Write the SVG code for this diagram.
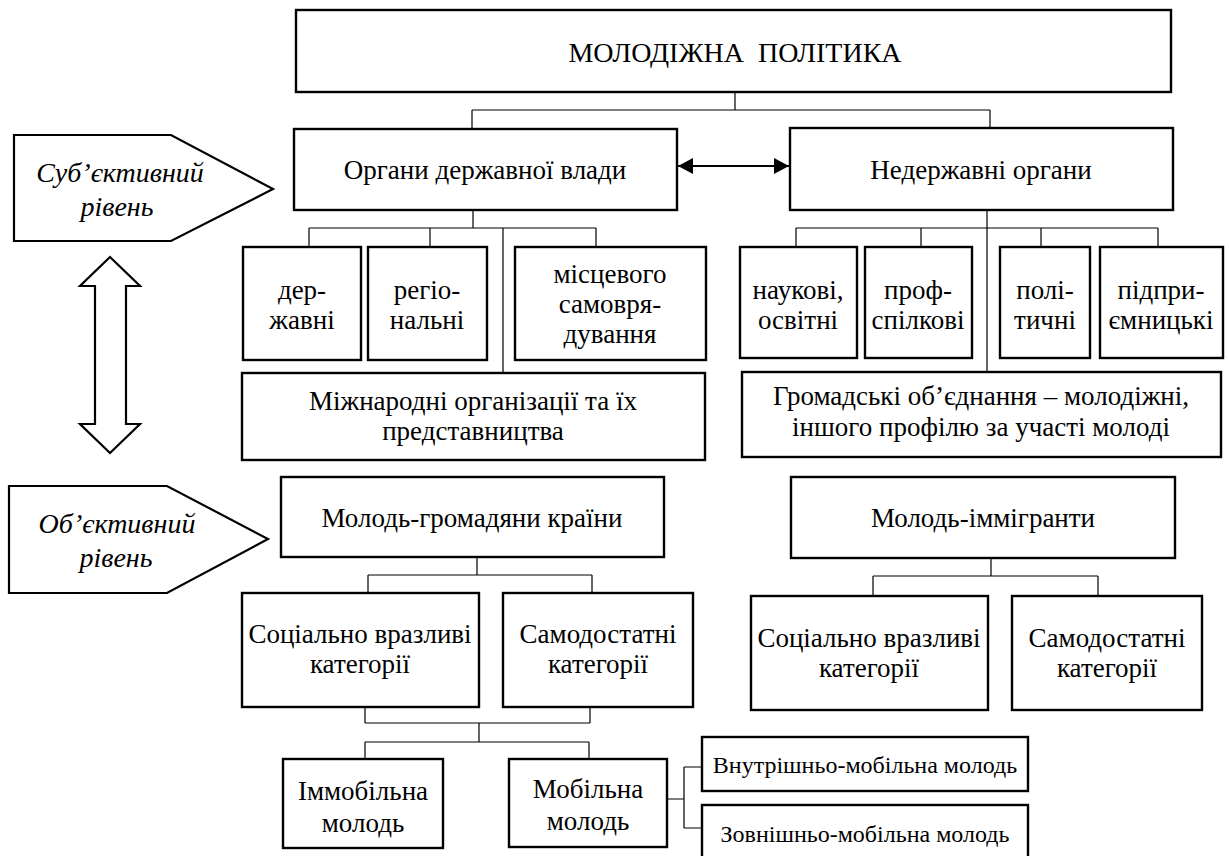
<svg xmlns="http://www.w3.org/2000/svg" width="1229" height="856" viewBox="0 0 1229 856">
<style>
.box{fill:#fff;stroke:#000;stroke-width:2.4}
.shape{fill:#fff;stroke:#000;stroke-width:2.2;stroke-linejoin:miter}
.ln{fill:none;stroke:#000;stroke-width:1.2}
.txt text{font-size:27px;text-anchor:middle;fill:#000}
.txt .tt{font-size:28px}
.txt .ti{font-style:italic;font-size:28px}
.txt .ts{font-size:24px}
</style>
<defs>
<marker id="ah" viewBox="0 0 15 16" refX="15" refY="8" markerWidth="15" markerHeight="16" markerUnits="userSpaceOnUse" orient="auto-start-reverse">
<path d="M0,0 L15,8 L0,16 z" fill="#000"/>
</marker>
</defs>
<rect width="1229" height="856" fill="#fff"/>
<g id="connectors">
<path class="ln" d="M735,92 V110 M472,110 H990 M472,110 V129 M990,110 V128"/>
<path class="ln" d="M473,210 V228 M309,228 H596 M309,228 V247 M430,228 V247 M596,228 V247 M503,228 V373"/>
<path class="ln" d="M987,210 V372 M796,228 H1158 M796,228 V247 M921,228 V247 M1041,228 V247 M1158,228 V247"/>
<line x1="678" y1="166" x2="789" y2="166" stroke="#000" stroke-width="2.2" marker-start="url(#ah)" marker-end="url(#ah)"/>
<path class="ln" d="M477,557 V575 M368,575 H592 M368,575 V593 M592,575 V593"/>
<path class="ln" d="M991,558 V576 M873,576 H1098 M873,576 V596 M1098,576 V596"/>
<path class="ln" d="M365,707 V723 M590,707 V723 M365,723 H590 M479,723 V742 M365,742 H589 M365,742 V759 M589,742 V759"/>
<path class="ln" d="M667,799 H684 M684,767 V828 M684,767 H702 M684,828 H702" stroke="#333" stroke-width="1.6"/>
</g>
<g class="txt" font-family="Liberation Serif, Times New Roman, Times, DejaVu Serif, serif">
<g id="n-top"><rect class="box" x="296" y="10" width="875" height="82"/><text class="tt" x="735" y="62" xml:space="preserve">МОЛОДІЖНА  ПОЛІТИКА</text></g>
<g id="n-subj"><polygon class="shape" points="14,135 171,135 273,189 171,241 14,241"/><text class="ti" x="120" y="182">Суб’єктивний</text><text class="ti" x="117" y="216">рівень</text></g>
<g id="n-levels-arrow"><polygon class="shape" points="110,257 140,286 126,286 126,424 140,424 110,453 80,424 95,424 95,286 80,286"/></g>
<g id="n-obj"><polygon class="shape" points="9,486 167,486 268,539 167,593 9,593"/><text class="ti" x="117" y="533">Об’єктивний</text><text class="ti" x="116" y="567">рівень</text></g>
<g id="n-organy"><rect class="box" x="294" y="129" width="383" height="81"/><text x="485" y="179">Органи державної влади</text></g>
<g id="n-nederzh"><rect class="box" x="790" y="128" width="383" height="82"/><text x="981" y="179">Недержавні органи</text></g>
<g id="n-derzh"><rect class="box" x="243" y="247" width="118" height="113"/><text x="302" y="299">дер-</text><text x="302" y="329">жавні</text></g>
<g id="n-region"><rect class="box" x="368" y="247" width="119" height="113"/><text x="427" y="299">регіо-</text><text x="427" y="329">нальні</text></g>
<g id="n-misc"><rect class="box" x="515" y="247" width="191" height="113"/><text x="610" y="283">місцевого</text><text x="610" y="313">самовря-</text><text x="610" y="343">дування</text></g>
<g id="n-nauk"><rect class="box" x="740" y="247" width="117" height="111"/><text x="798" y="299">наукові,</text><text x="798" y="329">освітні</text></g>
<g id="n-prof"><rect class="box" x="865" y="247" width="107" height="111"/><text x="918" y="299">проф-</text><text x="918" y="329">спілкові</text></g>
<g id="n-polit"><rect class="box" x="1000" y="247" width="90" height="111"/><text x="1045" y="299">полі-</text><text x="1045" y="329">тичні</text></g>
<g id="n-pidpr"><rect class="box" x="1100" y="247" width="123" height="111"/><text x="1161" y="299">підпри-</text><text x="1161" y="329">ємницькі</text></g>
<g id="n-mizhn"><rect class="box" x="242" y="373" width="463" height="87"/><text x="473" y="410">Міжнародні організації та їх</text><text x="473" y="440">представництва</text></g>
<g id="n-hromad"><rect class="box" x="742" y="372" width="479" height="85"/><text x="981" y="405">Громадські об’єднання – молодіжні,</text><text x="981" y="436">іншого профілю за участі молоді</text></g>
<g id="n-molod-hr"><rect class="box" x="281" y="477" width="383" height="80"/><text x="472" y="527">Молодь-громадяни країни</text></g>
<g id="n-molod-imm"><rect class="box" x="791" y="477" width="384" height="81"/><text x="983" y="527">Молодь-іммігранти</text></g>
<g id="n-soc1"><rect class="box" x="242" y="593" width="237" height="114"/><text x="360" y="643">Соціально вразливі</text><text x="360" y="673">категорії</text></g>
<g id="n-samo1"><rect class="box" x="503" y="593" width="190" height="114"/><text x="598" y="643">Самодостатні</text><text x="598" y="673">категорії</text></g>
<g id="n-soc2"><rect class="box" x="751" y="596" width="237" height="114"/><text x="869" y="647">Соціально вразливі</text><text x="869" y="677">категорії</text></g>
<g id="n-samo2"><rect class="box" x="1012" y="596" width="190" height="114"/><text x="1107" y="647">Самодостатні</text><text x="1107" y="677">категорії</text></g>
<g id="n-immob"><rect class="box" x="283" y="759" width="160" height="89"/><text x="363" y="800">Іммобільна</text><text x="363" y="832">молодь</text></g>
<g id="n-mob"><rect class="box" x="509" y="759" width="158" height="88"/><text x="588" y="798">Мобільна</text><text x="588" y="830">молодь</text></g>
<g id="n-vnutr"><rect class="box" x="702" y="737" width="326" height="54"/><text class="ts" x="865" y="773">Внутрішньо-мобільна молодь</text></g>
<g id="n-zovn"><rect class="box" x="702" y="805" width="326" height="60"/><text class="ts" x="865" y="842">Зовнішньо-мобільна молодь</text></g>
</g>
</svg>
